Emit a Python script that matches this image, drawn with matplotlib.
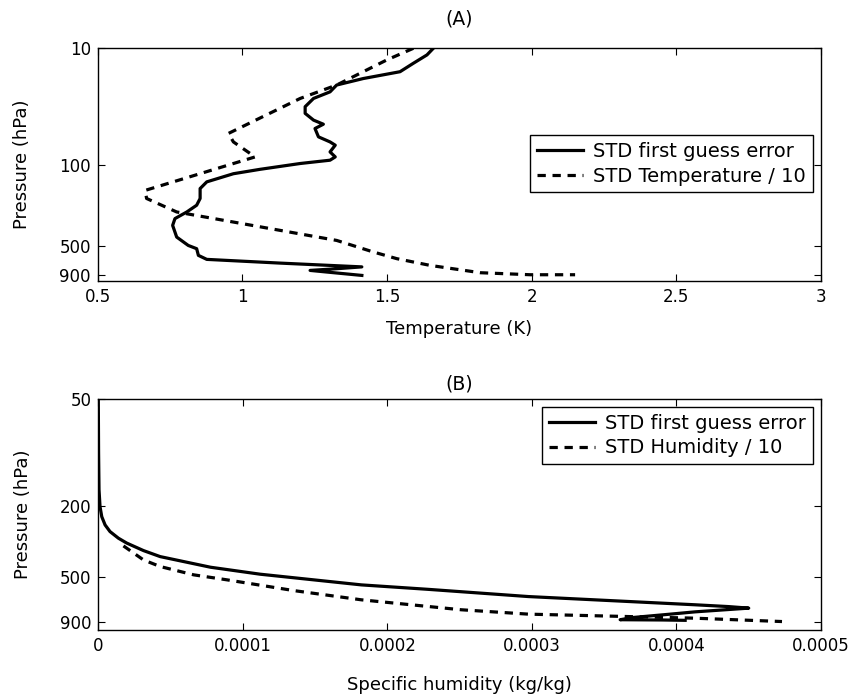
# Two-panel profile plot: STD first guess error vs background STD, temperature and humidity.

import numpy as np
import matplotlib
matplotlib.use('Agg')
import matplotlib.pyplot as plt
from matplotlib.ticker import FixedLocator, FixedFormatter, NullLocator

# --------------------------- DATA ---------------------------

# Panel (A): temperature [K] against pressure [hPa].
temp_fg_x = [1.660, 1.638, 1.590, 1.545, 1.418, 1.326, 1.303, 1.246, 1.217, 1.217,
             1.246, 1.280, 1.251, 1.263, 1.303, 1.321, 1.303, 1.321, 1.303, 1.200,
             1.061, 0.969, 0.877, 0.854, 0.854, 0.842, 0.808, 0.767, 0.759, 0.773,
             0.813, 0.842, 0.848, 0.877, 1.130, 1.413, 1.320, 1.234, 1.320, 1.413]
temp_fg_p = [10, 11.4, 13.5, 15.9, 18.2, 20.7, 23.7, 27, 31.8, 36.3,
             41.5, 45, 49, 57.8, 63.9, 68.2, 77.9, 86, 91.8, 98,
             110, 120, 141, 161, 196, 224, 256, 292, 334, 421,
             497, 530, 605, 655, 705, 760, 790, 815, 855, 900]

temp_bg_x = [1.591, 1.499, 1.407, 1.326, 1.200, 0.952, 0.969, 1.044, 0.664, 0.669,
             0.773, 1.326, 1.453, 1.534, 1.649, 1.822, 1.995, 2.150]
temp_bg_p = [10, 12.6, 16.4, 20.7, 27, 54, 63.9, 86, 167, 196,
             256, 450, 566, 646, 738, 853, 888, 888]

# Panel (B): specific humidity [kg/kg] against pressure [hPa].
hum_fg_x = [0.0, 0.002e-4, 0.005e-4, 0.012e-4, 0.024e-4, 0.047e-4, 0.081e-4, 0.139e-4,
            0.197e-4, 0.3125e-4, 0.428e-4, 0.776e-4, 1.12e-4, 1.82e-4, 2.28e-4, 2.975e-4,
            3.67e-4, 4.13e-4, 4.36e-4, 4.50e-4, 4.13e-4, 3.95e-4, 3.70e-4, 3.61e-4,
            3.90e-4, 4.06e-4]
hum_fg_p = [50, 100, 162, 202, 230, 256, 279, 304,
            324, 357, 386, 443, 485, 557, 590, 648,
            691, 721, 738, 753, 790, 815, 850, 875,
            878, 882]

hum_bg_x = [0.174e-4, 0.3125e-4, 0.428e-4, 0.66e-4, 0.892e-4, 1.354e-4, 1.82e-4,
            2.51e-4, 2.975e-4, 3.67e-4, 4.13e-4, 4.73e-4]
hum_bg_p = [336, 403, 439, 489, 522, 600, 676, 769, 814, 840, 858, 896]

# Axis ticks.
temp_yticks = [10, 100, 500, 900]
hum_yticks = [50, 200, 500, 900]
temp_xticks = [0.5, 1, 1.5, 2, 2.5, 3]
temp_xticklabels = ['0.5', '1', '1.5', '2', '2.5', '3']
hum_xticks = [0, 0.0001, 0.0002, 0.0003, 0.0004, 0.0005]
hum_xticklabels = ['0', '0.0001', '0.0002', '0.0003', '0.0004', '0.0005']

# --------------------------- PLOT ---------------------------

plt.rcParams['font.family'] = ['DejaVu Sans']
plt.rcParams['xtick.labelsize'] = 12
plt.rcParams['ytick.labelsize'] = 12
plt.rcParams['axes.labelsize'] = 13
plt.rcParams['axes.titlesize'] = 13.5
plt.rcParams['legend.fontsize'] = 14

fig = plt.figure(figsize=(8.54, 6.98), dpi=100)
ax_a = fig.add_axes([0.1144, 0.5978, 0.8470, 0.3330])
ax_b = fig.add_axes([0.1151, 0.0974, 0.8463, 0.3310])

line_kw = dict(color='black', lw=2.3)
dash_kw = dict(color='black', lw=2.3, dashes=(2.6, 2.1))

def style_axis(ax, yticks):
    ax.set_yscale('log')
    ax.yaxis.set_major_locator(FixedLocator(yticks))
    ax.yaxis.set_major_formatter(FixedFormatter([str(t) for t in yticks]))
    ax.yaxis.set_minor_locator(NullLocator())
    ax.tick_params(direction='in', top=True, right=True, length=5, width=0.8, pad=5)
    for s in ax.spines.values():
        s.set_linewidth(1.0)
    ax.yaxis.set_label_coords(-0.092, 0.5)

def add_legend(ax, anchor):
    leg = ax.legend(loc='upper right', bbox_to_anchor=anchor,
                    bbox_transform=fig.transFigure, borderaxespad=0,
                    fancybox=False, framealpha=1, edgecolor='black',
                    handlelength=2.4, handletextpad=0.5, borderpad=0.35,
                    labelspacing=0.3)
    leg.get_frame().set_linewidth(1.0)

# (A) temperature.
ax_a.plot(temp_fg_x, temp_fg_p, label='STD first guess error', **line_kw)
ax_a.plot(temp_bg_x, temp_bg_p, label='STD Temperature / 10', **dash_kw)
style_axis(ax_a, temp_yticks)
ax_a.set_ylim(1000, 10)
ax_a.set_xlim(0.5, 3)
ax_a.set_xticks(temp_xticks)
ax_a.set_xticklabels(temp_xticklabels)
ax_a.set_title('(A)', pad=17)
ax_a.set_xlabel('Temperature (K)', labelpad=10)
ax_a.set_ylabel('Pressure (hPa)')
add_legend(ax_a, (0.9516, 0.8066))

# (B) humidity.
ax_b.plot(hum_fg_x, hum_fg_p, label='STD first guess error', **line_kw)
ax_b.plot(hum_bg_x, hum_bg_p, label='STD Humidity / 10', **dash_kw)
style_axis(ax_b, hum_yticks)
ax_b.set_ylim(1000, 50)
ax_b.set_xlim(0, 0.0005)
ax_b.set_xticks(hum_xticks)
ax_b.set_xticklabels(hum_xticklabels)
ax_b.set_title('(B)', pad=7)
ax_b.set_xlabel('Specific humidity (kg/kg)', labelpad=15)
ax_b.set_ylabel('Pressure (hPa)')
add_legend(ax_b, (0.9516, 0.4173))

fig.savefig('out.png', dpi=100)
